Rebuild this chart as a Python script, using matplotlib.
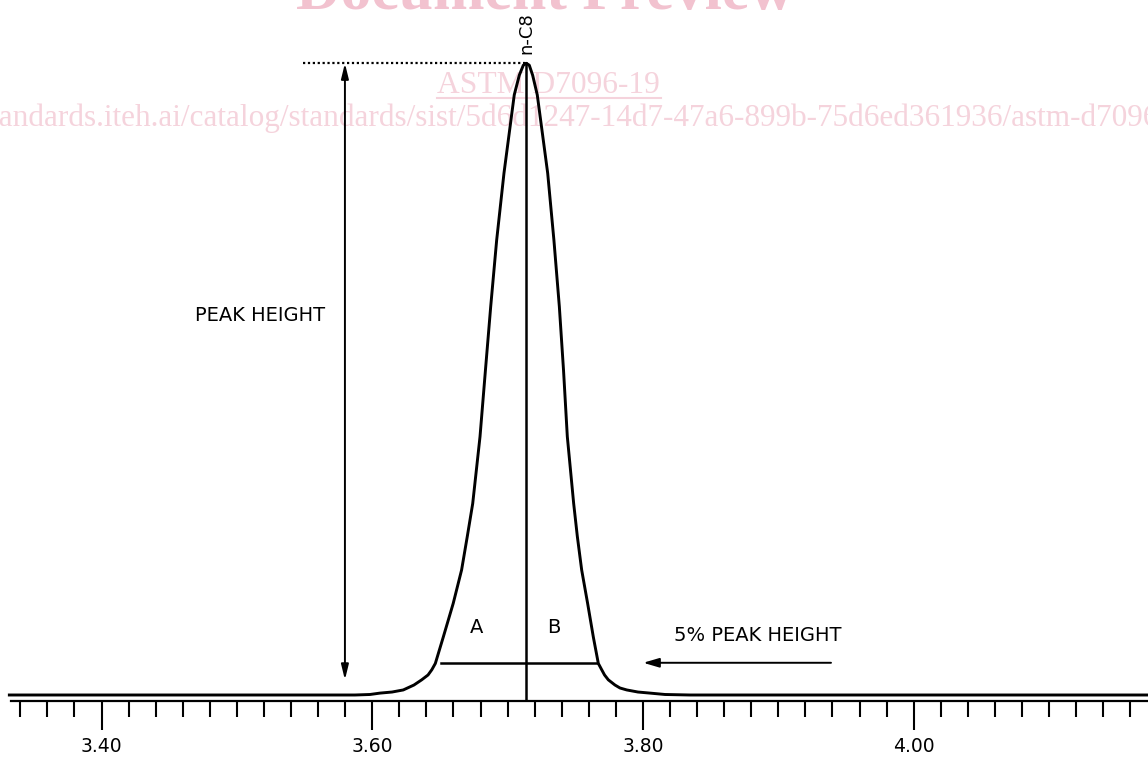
import matplotlib.pyplot as plt
from matplotlib.ticker import FixedLocator, MultipleLocator

# retention time (min) and response (% of peak height)
retention_time = [3.3308, 3.5872, 3.5983, 3.6057, 3.6146, 3.6229, 3.6308, 3.6365,
                  3.6412, 3.6440, 3.6466, 3.6525, 3.6598, 3.6660, 3.6702, 3.6742,
                  3.6796, 3.6836, 3.6875, 3.6919, 3.6973, 3.7049, 3.7086, 3.7116,
                  3.7138, 3.7160, 3.7185, 3.7219, 3.7296, 3.7342, 3.7382, 3.7413,
                  3.7441, 3.7488, 3.7515, 3.7547, 3.7591, 3.7633, 3.7670, 3.7695,
                  3.7716, 3.7744, 3.7793, 3.7830, 3.7880, 3.7963, 3.8052, 3.8163,
                  3.8348, 4.1731]
response = [0.0, 0.0, 0.08, 0.3, 0.47, 0.8, 1.58, 2.4,
            3.17, 4.0, 5.0, 9.2, 14.5, 19.8, 25.1, 30.3,
            40.9, 51.4, 61.5, 72.0, 82.6, 95.0, 98.1, 99.7,
            100.0, 99.7, 98.1, 95.0, 82.6, 72.0, 61.5, 51.4,
            40.9, 30.3, 25.1, 19.8, 14.5, 9.2, 5.0, 4.0,
            3.17, 2.4, 1.58, 1.11, 0.8, 0.47, 0.3, 0.08,
            0.0, 0.0]

peak_label = 'n-C8'
peak_time = 3.7138
peak_height = 100.0
five_pct = 5.0
five_pct_left = 3.6507
five_pct_right = 3.7660

major_ticks = [3.40, 3.60, 3.80, 4.00]
tick_labels = ['3.40', '3.60', '3.80', '4.00']

W, H = 1148, 757
fig = plt.figure(figsize=(W / 100, H / 100), dpi=100)
ax = fig.add_axes([11 / W, 56 / H, 1 - 11 / W, 701 / H])
ax.patch.set_visible(False)
ax.set_xlim(3.3331, 4.1731)
ax.set_ylim(-0.95, 110.02)

# pink watermark of the source document, behind everything
pink = '#f5d3dc'
fig.text(545 / W, 1 - 9 / H, 'Document Preview', family='Liberation Serif', weight='bold',
         fontsize=44.5, color='#f2c2cf', ha='center', va='baseline', zorder=-5)
fig.text(437 / W, 1 - 93 / H, 'ASTM D7096-19', family='Liberation Serif',
         fontsize=22.7, color=pink, ha='left', va='baseline', zorder=-5)
fig.add_artist(plt.Line2D([437 / W, 661 / W], [1 - 98 / H, 1 - 98 / H], color=pink,
                          lw=1.5, zorder=-5))
fig.text(-21 / W, 1 - 126 / H,
         'standards.iteh.ai/catalog/standards/sist/5d6d1247-14d7-47a6-899b-75d6ed361936/astm-d7096-19',
         family='Liberation Serif', fontsize=22.5, color=pink, ha='left', va='baseline', zorder=-5)

# chromatogram trace
ax.plot(retention_time, response, color='black', lw=2.1, clip_on=False,
        solid_joinstyle='round', solid_capstyle='butt')

# peak construction lines
ax.plot([peak_time, peak_time], [-0.95, peak_height], color='black', lw=1.8)
ax.plot([five_pct_left, five_pct_right], [five_pct, five_pct], color='black', lw=1.8)
ax.plot([3.5488, peak_time], [peak_height, peak_height], color='black', lw=1.6,
        linestyle=(0, (1, 1.2)))

ax.annotate('', xy=(3.5798, peak_height), xytext=(3.5798, 2.4),
            arrowprops=dict(arrowstyle='<|-|>,head_length=0.9,head_width=0.22',
                            color='black', lw=1.4, shrinkA=0, shrinkB=0))
ax.annotate('', xy=(3.8002, 5.1), xytext=(3.9389, 5.1),
            arrowprops=dict(arrowstyle='-|>,head_length=0.95,head_width=0.28',
                            color='black', lw=1.4, shrinkA=0, shrinkB=0))

ax.text(3.5170, 60.0, 'PEAK HEIGHT', fontsize=14, ha='center', va='center')
ax.text(3.8850, 9.34, '5% PEAK HEIGHT', fontsize=14, ha='center', va='center')
ax.text(3.6771, 10.7, 'A', fontsize=14, ha='center', va='center')
ax.text(3.7342, 10.7, 'B', fontsize=14, ha='center', va='center')
ax.text(peak_time, 104.8, peak_label, fontsize=13, rotation=90, ha='center', va='center')

# time axis
for side in ['left', 'right', 'top']:
    ax.spines[side].set_visible(False)
ax.spines['bottom'].set_linewidth(1.6)
ax.set_yticks([])
ax.xaxis.set_major_locator(FixedLocator(major_ticks))
ax.set_xticklabels(tick_labels)
ax.xaxis.set_minor_locator(MultipleLocator(0.02))
ax.tick_params(axis='x', which='major', direction='out', length=21, width=1.5,
               labelsize=13.5, pad=5)
ax.tick_params(axis='x', which='minor', direction='out', length=11.5, width=1.5)

fig.savefig('out.png', dpi=100)
